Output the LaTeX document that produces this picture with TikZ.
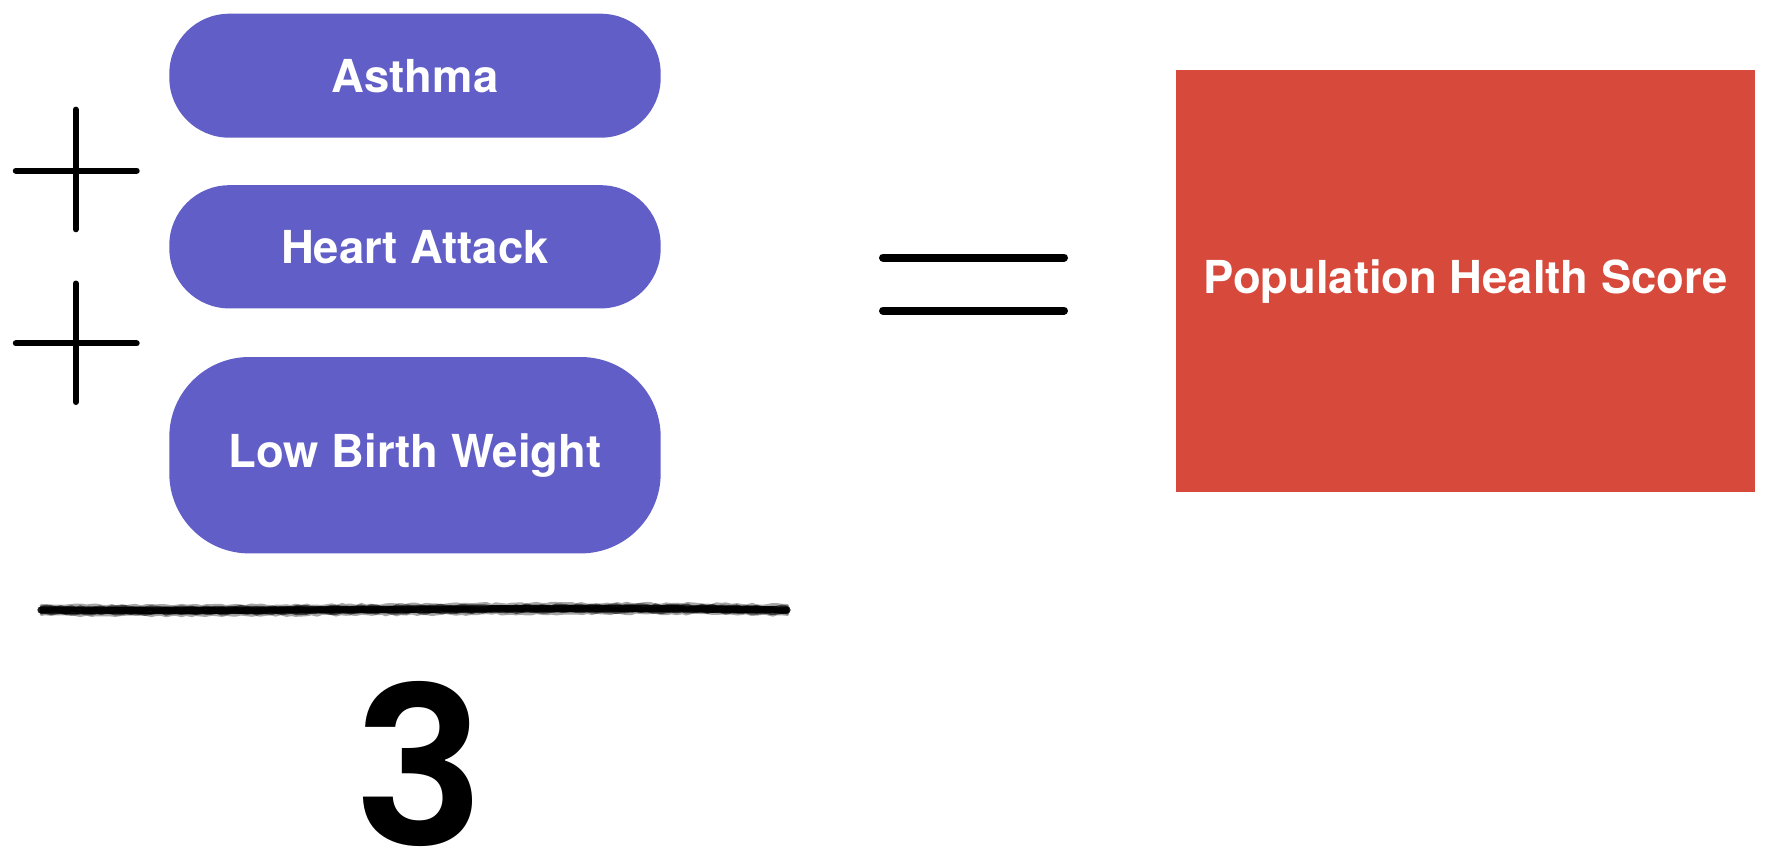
\documentclass[tikz,border=0pt]{standalone}
\usepackage{fontspec}
\newfontfamily\labfont{TeX Gyre Heros}
\newfontfamily\numfont{Poppins SemiBold}
\usetikzlibrary{decorations.pathmorphing}
\definecolor{pillblue}{HTML}{615FC7}
\definecolor{scorered}{HTML}{D6493B}
\begin{document}
\begin{tikzpicture}[x=0.5pt,y=-0.5pt,
  pill/.style={fill=pillblue, draw=none, text=white, inner sep=0pt,
    font=\labfont\bfseries\fontsize{22.7}{27}\selectfont, minimum width=245.7pt},
  signline/.style={line width=3pt, line cap=round, black},
  eqline/.style={line width=4pt, line cap=round, black},
  pencil/.style={line width=1.4pt, line cap=round, black,
    decorate, decoration={random steps, segment length=2.5pt, amplitude=0.5pt}}]
\useasboundingbox (0,0) rectangle (1771,862);

% pills
\node[pill, minimum height=62pt, rounded corners=30pt] (asthma) at (415,75.7) {Asthma};
\node[pill, minimum height=61.6pt, rounded corners=30pt] (heart) at (415,246.8) {Heart Attack};
\node[pill, minimum height=98.2pt, rounded corners=40pt] (lbw) at (415,455.2) {Low Birth Weight};

% plus signs
\coordinate (p1t) at (75.7,109.6); \coordinate (p1b) at (75.7,229.3);
\coordinate (p1l) at (15.8,170.6); \coordinate (p1r) at (136.7,170.6);
\draw[signline] (p1t) -- (p1b);
\draw[signline] (p1l) -- (p1r);
\coordinate (p2t) at (75.7,283.5); \coordinate (p2b) at (75.7,402);
\coordinate (p2l) at (15.8,343.4); \coordinate (p2r) at (136.7,343.4);
\draw[signline] (p2t) -- (p2b);
\draw[signline] (p2l) -- (p2r);

% fraction line (pencil)
\coordinate (fl) at (41,610); \coordinate (fr) at (787,610);
\draw[line width=3.6pt, line cap=round, black!88] (fl) .. controls (300,612) and (550,606) .. (fr);
\pgfmathsetseed{11}
\foreach \o/\op in {-4.5/0.35,-3/0.6,-1.5/0.85,0/0.9,1.5/0.85,3/0.6,4.5/0.35}{
  \draw[pencil, opacity=\op] (41,{610+\o}) .. controls (300,{612+\o}) and (550,{606+\o}) .. (787,{610+\o});
}

% denominator
\node[font=\numfont\fontsize{110}{110}\selectfont, inner sep=0pt] (three) at (419,764) {3};

% equals
\coordinate (e1l) at (883,257.5); \coordinate (e1r) at (1064,257.5);
\coordinate (e2l) at (883,310.6); \coordinate (e2r) at (1064,310.6);
\draw[eqline] (e1l) -- (e1r);
\draw[eqline] (e2l) -- (e2r);

% result
\node[fill=scorered, draw=none, text=white, inner sep=0pt,
  minimum width=289.5pt, minimum height=211.2pt,
  font=\labfont\bfseries\fontsize{22.7}{27}\selectfont] (score) at (1465.5,281.2) {Population Health Score};
\end{tikzpicture}
\end{document}
